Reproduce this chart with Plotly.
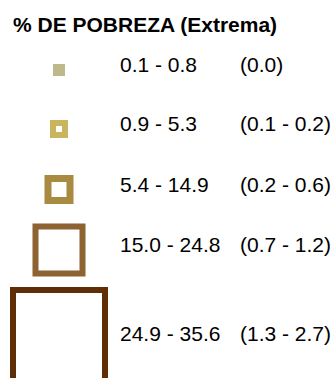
import plotly.graph_objects as go

# ---- data ----
title = "% DE POBREZA (Extrema)"
range_labels = ["0.1 - 0.8", "0.9 - 5.3", "5.4 - 14.9", "15.0 - 24.8", "24.9 - 35.6"]
sub_labels = ["(0.0)", "(0.1 - 0.2)", "(0.2 - 0.6)", "(0.7 - 1.2)", "(1.3 - 2.7)"]

# ---- styles / layout ----
colors = ["#bdb98b", "#c9b55d", "#a88a40", "#8c6331", "#5f2e06"]
fills = ["#bdb98b", "white", "white", "white", "white"]
marker_sizes = [12, 12, 22, 47, 92]
line_widths = [0, 6, 7, 6, 6]
square_x = 59
square_y = [70, 129, 189.5, 250, 336]
text_y = [67, 125.5, 186.5, 247, 335.5]
col1_x = 120
col2_x = 240

W, H = 334, 378
FONT = "Liberation Sans, Arial, sans-serif"

fig = go.Figure()

for i in range(len(range_labels)):
    fig.add_trace(go.Scatter(
        x=[square_x], y=[square_y[i]], mode="markers",
        marker=dict(symbol="square", size=marker_sizes[i], color=fills[i],
                    line=dict(color=colors[i], width=line_widths[i])),
        hoverinfo="skip", showlegend=False, cliponaxis=False,
    ))

fig.add_trace(go.Scatter(
    x=[col1_x] * len(range_labels), y=text_y, mode="text",
    text=range_labels, textposition="middle right",
    textfont=dict(family=FONT, size=21, color="#000000"),
    hoverinfo="skip", showlegend=False, cliponaxis=False,
))
fig.add_trace(go.Scatter(
    x=[col2_x] * len(sub_labels), y=text_y, mode="text",
    text=sub_labels, textposition="middle right",
    textfont=dict(family=FONT, size=21, color="#000000"),
    hoverinfo="skip", showlegend=False, cliponaxis=False,
))

fig.add_annotation(
    text="<b>" + title + "</b>", x=11, y=24, xref="x", yref="y",
    xanchor="left", yanchor="middle", showarrow=False,
    font=dict(family=FONT, size=21, color="#000000"),
)

fig.update_layout(
    width=W, height=H,
    margin=dict(l=0, r=0, t=0, b=0),
    paper_bgcolor="white", plot_bgcolor="white",
    xaxis=dict(range=[0, W], visible=False, fixedrange=True),
    yaxis=dict(range=[H, 0], visible=False, fixedrange=True),
)

fig.write_html(
    "out.html",
    config={"displayModeBar": False, "staticPlot": True},
    post_script="document.body.style.margin='0';document.body.style.overflow='hidden';",
)
